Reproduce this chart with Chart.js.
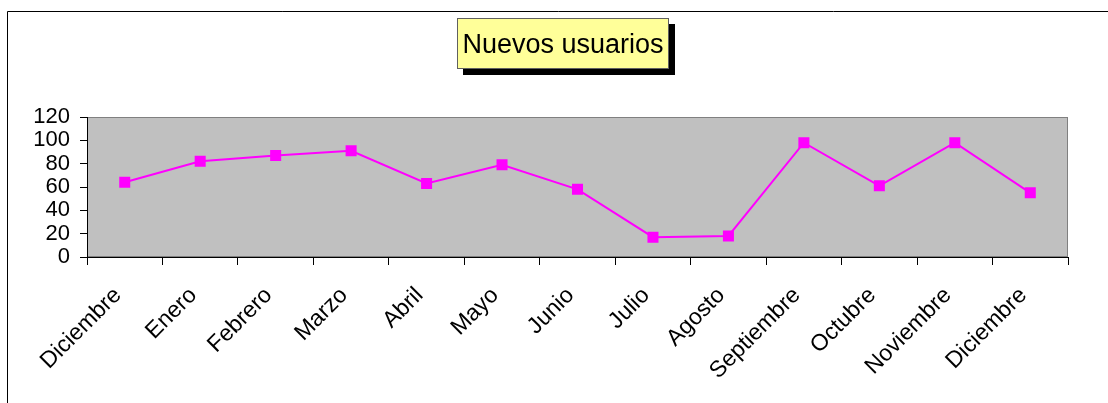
<!DOCTYPE html>
<html>
<head>
<meta charset="utf-8">
<script src="https://cdn.jsdelivr.net/npm/chart.js@4/dist/chart.umd.min.js"></script>
<style>
  html, body { margin: 0; padding: 0; background: #fff; }
  #wrap { position: relative; width: 1108px; height: 403px; }
  canvas { display: block; }
</style>
</head>
<body>
<div id="wrap"><canvas id="c" width="1108" height="403"></canvas></div>
<script>
const chartTitle = 'Nuevos usuarios';
const months = ['Diciembre', 'Enero', 'Febrero', 'Marzo', 'Abril', 'Mayo', 'Junio', 'Julio', 'Agosto', 'Septiembre', 'Octubre', 'Noviembre', 'Diciembre'];
const nuevosUsuarios = [64, 82, 87, 91, 63, 79, 58, 17, 18, 98, 61, 98, 55];
const yTicks = [0, 20, 40, 60, 80, 100, 120];

const FONT = '"Liberation Sans", Arial, sans-serif';

const decor = {
  id: 'decor',
  beforeDraw(chart) {
    const ctx = chart.ctx;
    const a = chart.chartArea;
    ctx.save();
    ctx.strokeStyle = '#000';
    ctx.lineWidth = 1;
    ctx.beginPath();
    ctx.moveTo(7.5, 410);
    ctx.lineTo(7.5, 11.5);
    ctx.lineTo(1120, 11.5);
    ctx.stroke();
    ctx.fillStyle = '#C0C0C0';
    ctx.fillRect(a.left, a.top, a.right - a.left, a.bottom - a.top);
    ctx.strokeStyle = '#808080';
    ctx.lineWidth = 1;
    ctx.strokeRect(a.left + 0.5, a.top + 0.5, a.right - a.left - 1, a.bottom - a.top - 1);
    ctx.restore();
  },
  afterDraw(chart) {
    const ctx = chart.ctx;
    ctx.save();
    const bx = 457, by = 18, bw = 212, bh = 51;
    ctx.fillStyle = '#000';
    ctx.fillRect(bx + 6, by + 6, bw, bh);
    ctx.fillStyle = '#FFFF99';
    ctx.fillRect(bx, by, bw, bh);
    ctx.strokeStyle = '#606060';
    ctx.lineWidth = 1;
    ctx.strokeRect(bx + 0.5, by + 0.5, bw - 1, bh - 1);
    ctx.fillStyle = '#000';
    ctx.font = '27px ' + FONT;
    ctx.textAlign = 'center';
    ctx.textBaseline = 'alphabetic';
    ctx.fillText(chartTitle, bx + bw / 2, 53);
    ctx.restore();
  }
};

new Chart(document.getElementById('c'), {
  type: 'line',
  data: {
    labels: months,
    datasets: [{
      label: chartTitle,
      data: nuevosUsuarios,
      borderColor: '#FF00FF',
      backgroundColor: '#FF00FF',
      borderWidth: 2,
      pointStyle: 'rect',
      pointRadius: 7.8,
      pointHoverRadius: 7.8,
      pointBorderWidth: 0,
      tension: 0,
      fill: false
    }]
  },
  options: {
    responsive: false,
    animation: false,
    events: [],
    layout: { padding: { left: 0, top: 117, right: 40, bottom: 0 } },
    plugins: {
      legend: { display: false },
      title: { display: false },
      tooltip: { enabled: false }
    },
    scales: {
      x: {
        type: 'category',
        offset: true,
        grid: {
          offset: true,
          drawOnChartArea: false,
          drawTicks: true,
          tickLength: 8,
          color: '#000'
        },
        border: { display: true, color: '#000', width: 1 },
        ticks: {
          autoSkip: false,
          maxRotation: 45,
          minRotation: 45,
          padding: 17,
          labelOffset: -7,
          color: '#000',
          font: { family: FONT, size: 23 }
        },
        afterFit(s) { s.height = 403 - 257; }
      },
      y: {
        min: 0,
        max: 120,
        afterBuildTicks(s) { s.ticks = yTicks.map(v => ({ value: v })); },
        grid: {
          drawOnChartArea: false,
          drawTicks: true,
          tickLength: 7,
          color: '#000'
        },
        border: { display: true, color: '#000', width: 1 },
        ticks: {
          autoSkip: false,
          padding: 10,
          color: '#000',
          font: { family: FONT, size: 22 }
        },
        afterFit(s) { s.width = 87; }
      }
    }
  },
  plugins: [decor]
});
</script>
</body>
</html>
